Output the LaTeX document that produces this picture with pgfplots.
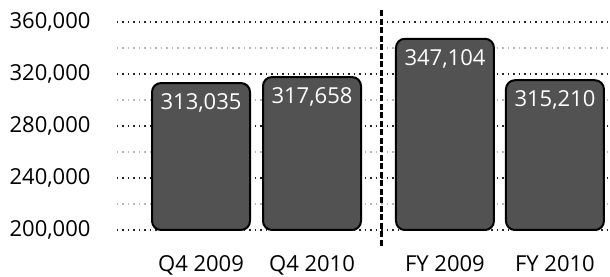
\documentclass[border=0pt]{standalone}
\usepackage{pgfplots}
\pgfplotsset{compat=1.18}
\usepackage{fontspec}
\setmainfont{Open Sans}
\usetikzlibrary{calc}
\definecolor{barfill}{RGB}{82,82,82}
\begin{document}
\begin{tikzpicture}
\begin{axis}[
  scale only axis, width=493pt, height=208pt,
  xmin=-0.757, xmax=3.685,
  ymin=200000, ymax=360000,
  y coord trafo/.code={\begingroup\pgfkeys{/pgf/fpu=true,/pgf/fpu/output format=fixed}\pgfmathparse{#1-200000}\pgfmathsmuggle\pgfmathresult\endgroup},
  y coord inv trafo/.code={\begingroup\pgfkeys{/pgf/fpu=true,/pgf/fpu/output format=fixed}\pgfmathparse{#1+200000}\pgfmathsmuggle\pgfmathresult\endgroup},
  scaled y ticks=false,
  axis line style={draw=none},
  ytick={200000,240000,280000,320000,360000},
  yticklabels={{200,000},{240,000},{280,000},{320,000},{360,000}},
  minor ytick={220000,260000,300000,340000},
  xtick={0,1,2.198,3.189},
  xticklabels={Q4 2009,Q4 2010,FY 2009,FY 2010},
  tick style={draw=none},
  ymajorgrids, yminorgrids,
  major grid style={black!85, line width=1.3pt, dash pattern=on 1.5pt off 4pt},
  minor grid style={black!28, line width=1.2pt, dash pattern=on 1.5pt off 4pt},
  tick label style={font=\fontsize{22}{26}\selectfont, text=black},
  yticklabel style={xshift=-23pt},
  xticklabel style={yshift=-22pt},
  clip=false,
]
\addplot[ybar, bar width=98pt, fill=barfill, draw=black, line width=2pt,
  rounded corners=9pt, point meta=explicit symbolic, nodes near coords,
  nodes near coords align={anchor=north},
  every node near coord/.append style={text=white, yshift=-6pt,
    font=\fontsize{22}{26}\selectfont}]
  coordinates {(0,313035)[313,035] (1,317658)[317,658] (2.198,347104)[347,104] (3.189,315210)[315,210]};
\addplot[black, line width=3pt, dash pattern=on 6pt off 2.5pt]
  coordinates {(1.63,369000) (1.63,187000)};
\end{axis}
\pgfresetboundingbox
\path[use as bounding box] ($(current axis.south west)+(-117pt,-47pt)$) rectangle ($(current axis.north east)+(0pt,22pt)$);
\end{tikzpicture}
\end{document}
